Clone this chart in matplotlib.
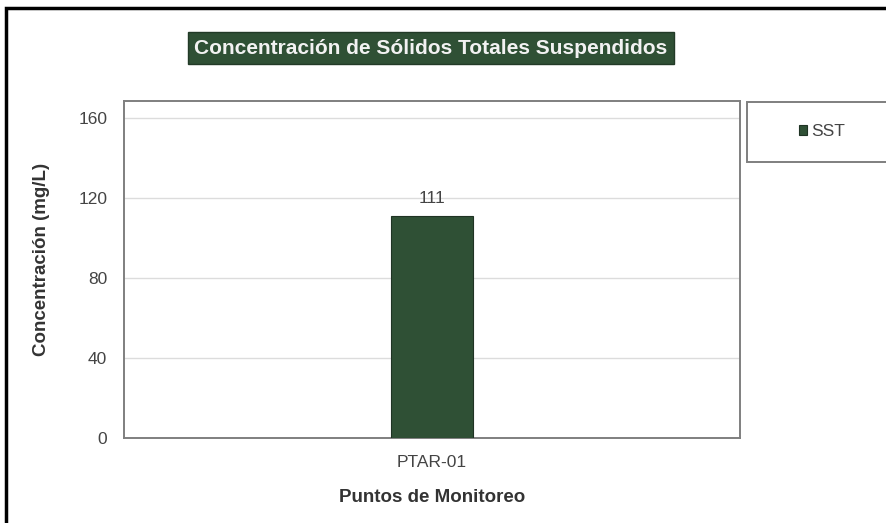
import matplotlib
matplotlib.use("Agg")
from matplotlib import pyplot as plt
from matplotlib import font_manager
from matplotlib.patches import Rectangle

# data
puntos = ["PTAR-01"]
sst = [111]
yticks = [0, 40, 80, 120, 160]

names = {f.name for f in font_manager.fontManager.ttflist}
fams = ['Liberation Sans Narrow', 'Liberation Sans', 'DejaVu Sans']
plt.rcParams['font.family'] = [f for f in fams if f in names]

W, H = 886, 523
fig = plt.figure(figsize=(W / 100, H / 100), dpi=100)

def fx(px):
    return px / W

def fy(py):
    return 1 - py / H

green = '#2f5035'
grey = '#7f7f7f'

ax = fig.add_axes([fx(124), fy(438), fx(740) - fx(124), fy(101) - fy(438)])
bars = ax.bar(puntos, sst, width=0.133, color=green, edgecolor='#1f3324', linewidth=0.8,
              label='SST', zorder=3)
ax.set_xlim(-0.5, 0.5)
ax.set_ylim(0, 168.5)
ax.set_yticks(yticks)
ax.yaxis.grid(True, color='#dcdcdc', linewidth=1.0, zorder=0)
ax.tick_params(axis='both', length=0, labelsize=12.5, colors='#444444')
ax.tick_params(axis='y', pad=12)
ax.tick_params(axis='x', pad=12)
for s in ax.spines.values():
    s.set_color(grey)
    s.set_linewidth(1.4)
ax.bar_label(bars, labels=[str(v) for v in sst], padding=7, fontsize=12.5, color='#444444')

ax.set_ylabel('Concentración (mg/L)', fontsize=13.5, fontweight='bold', color='#333333')
ax.yaxis.set_label_coords(-0.12, 0.53)
ax.set_xlabel('Puntos de Monitoreo', fontsize=13.5, fontweight='bold', color='#333333', labelpad=14)

# title in dark green box
fig.text(fx(431), fy(48), 'Concentración de Sólidos Totales Suspendidos', ha='center', va='center',
         fontsize=15, fontweight='bold', color='#f2f2f2',
         bbox=dict(boxstyle='square,pad=0.3', facecolor=green, edgecolor='#223a27'))

# legend box
fig.patches.append(Rectangle((fx(747), fy(162)), fx(160), fy(102) - fy(162), transform=fig.transFigure,
                             facecolor='white', edgecolor=grey, linewidth=1.4))
fig.legend(handles=[bars], labels=['SST'], loc='center', bbox_to_anchor=(fx(822), fy(132)),
           frameon=False, fontsize=12.5, handlelength=0.5, handleheight=0.5, handletextpad=0.25,
           labelcolor='#444444')

# outer border
fig.patches.append(Rectangle((fx(6), fy(H + 5)), fx(W + 10), fy(8) - fy(H + 5), transform=fig.transFigure,
                             facecolor='none', edgecolor='black', linewidth=2.5))

fig.savefig('out.png', dpi=100)
